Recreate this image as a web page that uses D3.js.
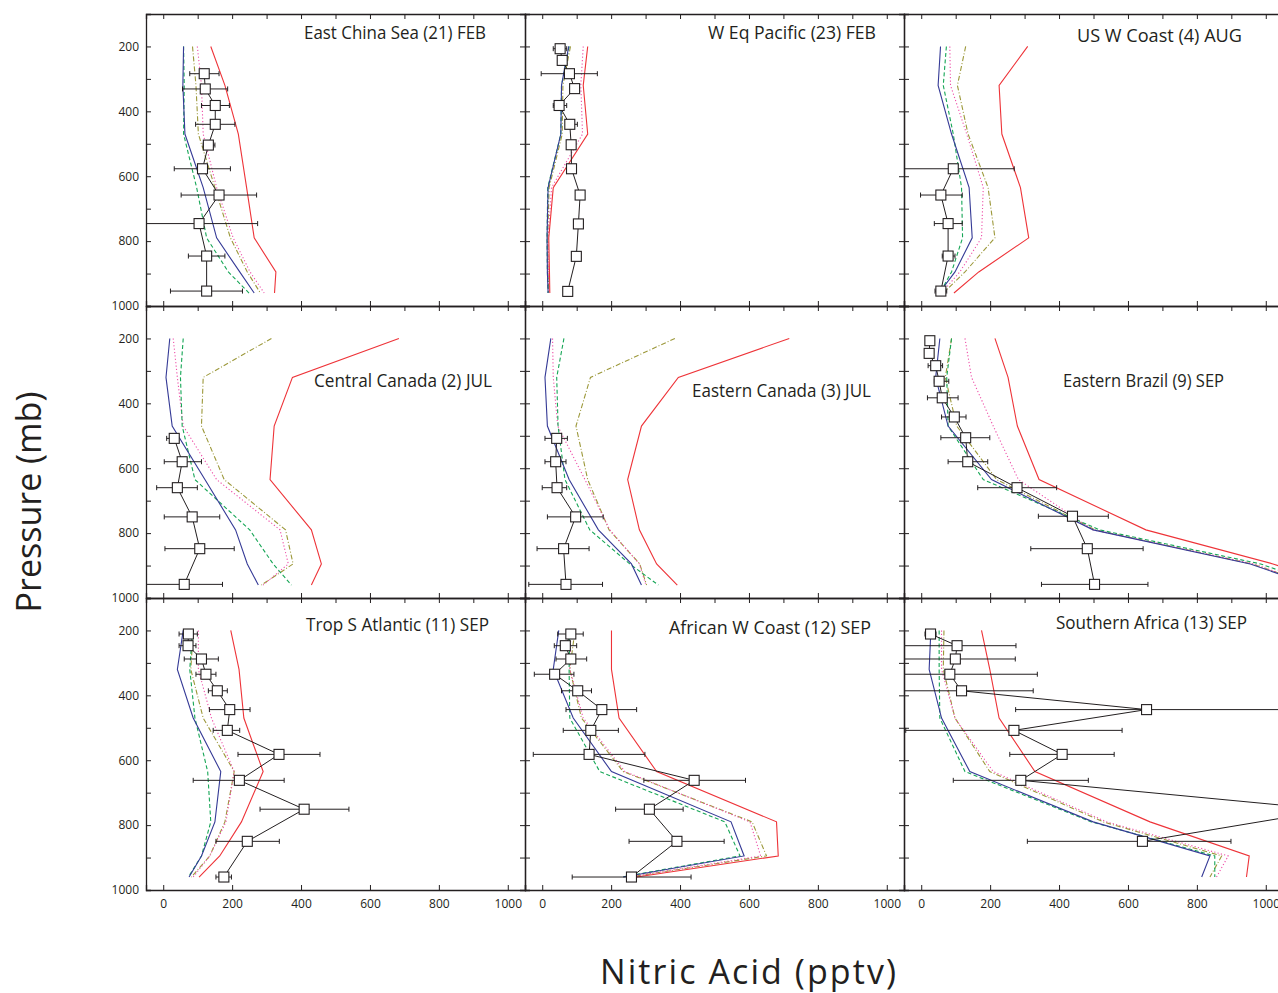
<!DOCTYPE html>
<html><head><meta charset="utf-8">
<script src="https://cdn.jsdelivr.net/npm/d3@7/dist/d3.min.js"></script>
<style>body{margin:0;background:#fff}svg{display:block}</style>
</head><body><svg id="chart" width="1278" height="993"></svg>
<script>
// ---------------- DATA ----------------
const panelTitles = [
  "East China Sea (21) FEB", "W Eq Pacific (23) FEB", "US W Coast (4) AUG",
  "Central Canada (2) JUL", "Eastern Canada (3) JUL", "Eastern Brazil (9) SEP",
  "Trop S Atlantic (11) SEP", "African W Coast (12) SEP", "Southern Africa (13) SEP"
];
const modelLevels = [200, 320, 470, 635, 790, 895, 960];   // mb
const redModel = [
  [138,179,218,242,264,327,323], [132,119,132,32,19,21,22], [309,226,234,288,312,167,95],
  [684,375,322,310,430,459,430], [717,395,288,248,282,332,392], [214,252,279,342,652,1021,1200],
  [196,220,234,290,227,164,104], [201,201,223,332,680,685,274], [175,199,226,330,664,952,944]
];
const blueModel = [
  [59,57,63,116,155,222,264], [77,56,54,17,14,15,17], [56,49,88,139,148,98,52],
  [19,8,26,121,210,244,276], [25,8,15,78,163,259,288], [54,42,78,204,499,955,1130],
  [58,41,87,167,150,111,75], [48,32,90,201,548,586,235], [28,23,59,141,499,838,814]
];
const greenModel = [
  [59,61,59,97,126,189,249], [78,56,54,16,14,15,17], [73,64,93,117,120,88,54],
  [58,50,55,92,251,319,372], [63,42,46,66,138,254,337], [88,74,78,180,518,985,1160],
  [85,77,92,129,138,111,73], [80,78,80,167,530,574,230], [52,52,54,127,494,852,852]
];
const magentaModel = [
  [99,111,116,155,203,252,293], [119,112,117,27,17,18,20], [83,85,132,180,175,112,59],
  [29,41,58,155,339,363,290], [30,32,45,124,196,282,301], [127,146,209,282,499,965,1140],
  [102,102,140,206,182,135,87], [83,80,119,240,603,634,250], [59,59,98,209,538,891,857]
];
const oliveModel = [
  [85,95,102,150,195,244,282], [82,60,58,20,16,17,19], [129,105,136,194,214,127,64],
  [314,116,111,177,355,377,285], [385,140,98,132,194,283,303], [88,70,103,219,505,960,1140],
  [87,80,116,206,179,135,82], [95,80,114,235,609,651,254], [66,64,98,199,528,872,838]
];
const obsPressure = [
  [284,331,382,440,504,577,658,746,846,954],
  [207,243,284,330,382,440,503,577,658,747,847,955],
  [577,658,746,846,954],
  [508,580,660,750,848,958],
  [508,580,660,750,848,958],
  [207,246,284,332,383,442,506,580,660,748,848,958],
  [211,247,288,335,386,444,508,582,662,751,850,960],
  [211,247,288,335,386,444,508,582,662,751,850,960],
  [211,247,288,335,386,444,508,582,662,753,850]
];
const obsValue = [
  [119,122,151,151,131,114,162,104,126,126],
  [52,58,79,94,49,80,84,85,110,105,99,74],
  [93,57,78,78,57],
  [32,55,41,84,106,61],
  [42,39,43,97,62,69],
  [25,23,42,52,61,96,129,135,278,439,482,503],
  [73,72,111,124,157,193,186,336,221,409,244,176],
  [83,67,83,36,103,173,141,136,441,311,391,259],
  [27,104,99,83,117,654,269,409,289,1190,642]
];
const obsLow = [
  [77,56,111,94,116,32,52,-50,73,21],
  [32,46,-3,80,32,69,79,80,105,100,94,69],
  [-50,-2,38,61,40],
  [10,3,-19,3,5,-50],
  [8,8,0,15,-15,-39],
  [19,12,20,38,18,59,57,78,164,340,318,349],
  [46,46,61,95,131,134,145,217,87,281,153,153],
  [45,35,40,-23,56,69,61,-26,295,213,252,87],
  [11,-60,-60,-60,-60,274,-45,257,93,1120,308]
];
const obsHigh = [
  [162,187,192,208,150,195,271,274,179,230],
  [71,71,160,107,71,102,89,90,115,110,104,79],
  [270,119,119,98,74],
  [41,111,99,164,206,172],
  [73,69,71,177,136,175],
  [31,35,62,80,107,130,199,193,393,543,644,658],
  [99,95,160,153,186,252,222,455,351,539,337,198],
  [119,100,129,92,143,274,221,298,590,409,528,432],
  [43,275,273,337,325,1150,583,560,485,1260,899]
];
const xTickLabels = [0, 200, 400, 600, 800, 1000];
const yTickLabels = [200, 400, 600, 800, 1000];

// ---------------- LAYOUT ----------------
const colLeft = [146, 525, 904], rowTop = [14, 306, 598];
const PW = 379, PH = 292;
const titlePos = [[304,38.5,182],[708,38.5,168],[1077,41.5,165],
                  [314,387,178],[692,397,179],[1063,387,161],
                  [306,631,183],[669,634,202],[1056,629,191]];
const FONT = "'Open Sans', 'Noto Sans', sans-serif";

const svg = d3.select("#chart");
const x = d3.scaleLinear().domain([-50, 1050]).range([0, PW]);
const y = d3.scaleLinear().domain([100, 1000]).range([0, PH]);

const series = [
  {data: oliveModel,   color: "#9c983a", dash: "5,2,1,2"},
  {data: magentaModel, color: "#ee4fa8", dash: "1.2,2.2"},
  {data: greenModel,   color: "#16a656", dash: "4,2.5"},
  {data: blueModel,    color: "#353a96", dash: null},
  {data: redModel,     color: "#ee3338", dash: null}
];

const line = d3.line().x(d => x(d[0])).y(d => y(d[1]));

for (let i = 0; i < 9; i++) {
  const r = Math.floor(i / 3), c = i % 3;
  const g = svg.append("g").attr("transform", `translate(${colLeft[c]},${rowTop[r]})`);
  const clipId = "clip" + i;
  g.append("clipPath").attr("id", clipId).append("rect").attr("width", PW).attr("height", PH);
  const plot = g.append("g").attr("clip-path", `url(#${clipId})`);

  // model lines
  series.forEach(s => {
    const pts = modelLevels.map((p, k) => [s.data[i][k], p]);
    plot.append("path").attr("d", line(pts)).attr("fill", "none")
      .attr("stroke", s.color).attr("stroke-width", 1.1)
      .attr("stroke-dasharray", s.dash);
  });

  // observations
  const obs = obsPressure[i].map((p, k) => ({p, v: obsValue[i][k], lo: obsLow[i][k], hi: obsHigh[i][k]}));
  plot.append("path").attr("d", line(obs.map(o => [o.v, o.p])))
    .attr("fill", "none").attr("stroke", "#231f20").attr("stroke-width", 1);
  const eb = plot.append("g").attr("stroke", "#231f20").attr("stroke-width", 1);
  obs.forEach(o => {
    eb.append("line").attr("x1", x(o.lo)).attr("x2", x(o.hi)).attr("y1", y(o.p)).attr("y2", y(o.p));
    [o.lo, o.hi].forEach(e => eb.append("line").attr("x1", x(e)).attr("x2", x(e))
      .attr("y1", y(o.p) - 2.5).attr("y2", y(o.p) + 2.5));
  });
  plot.append("g").selectAll("rect").data(obs).join("rect")
    .attr("x", o => x(o.v) - 5).attr("y", o => y(o.p) - 5)
    .attr("width", 10).attr("height", 10)
    .attr("fill", "#fff").attr("stroke", "#231f20").attr("stroke-width", 1.1);

  // axes (inward ticks)
  const yTicks = d3.range(200, 1001, 100);
  const left = g.append("g").call(d3.axisLeft(y).tickValues(yTicks).tickSize(-5).tickPadding(7)
      .tickFormat(d => (c === 0 && yTickLabels.includes(d)) ? d : ""));
  const right = g.append("g").attr("transform", `translate(${PW},0)`)
      .call(d3.axisRight(y).tickValues(yTicks).tickSize(-5).tickFormat(""));
  const top = g.append("g").call(d3.axisTop(x).tickValues(d3.range(0, 1001, 100)).tickSize(-5).tickFormat(""));
  const bottom = g.append("g").attr("transform", `translate(0,${PH})`)
      .call(d3.axisBottom(x).tickValues(xTickLabels).tickSize(-5).tickPadding(9)
      .tickFormat(d => r === 2 ? d : ""));
  [left, right, top, bottom].forEach(a => {
    a.select(".domain").attr("stroke", "#231f20").attr("stroke-width", 1.3);
    a.selectAll(".tick line").attr("stroke", "#231f20").attr("stroke-width", 1);
    a.selectAll("text").attr("font-family", FONT).attr("font-size", 12).attr("fill", "#231f20");
  });

  // title
  const tp = titlePos[i];
  svg.append("text").attr("x", tp[0]).attr("y", tp[1]).text(panelTitles[i])
    .attr("font-family", FONT).attr("font-size", 17.5).attr("fill", "#231f20")
    .attr("textLength", tp[2]).attr("lengthAdjust", "spacingAndGlyphs");
}

// axis titles
svg.append("text").attr("transform", "translate(41,502) rotate(-90)")
  .attr("text-anchor", "middle").attr("font-family", FONT).attr("font-size", 34)
  .attr("fill", "#231f20").text("Pressure (mb)");
svg.append("text").attr("x", 748).attr("y", 984)
  .attr("text-anchor", "middle").attr("font-family", FONT).attr("font-size", 34)
  .attr("textLength", 296).attr("lengthAdjust", "spacing")
  .attr("fill", "#231f20").text("Nitric Acid (pptv)");
</script></body></html>
